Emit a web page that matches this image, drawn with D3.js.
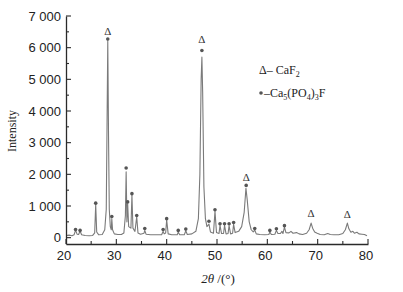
<!DOCTYPE html>
<html><head><meta charset="utf-8">
<script src="https://cdn.jsdelivr.net/npm/d3@7"></script>
<style>
html,body{margin:0;padding:0;background:#fff;}
svg{display:block;font-family:"Liberation Serif","Times New Roman",serif;}
</style></head><body>
<svg id="chart" width="403" height="292"></svg>
<script>
// XRD scan: [2θ (°), intensity]
const pattern = [
 [20.0,70],[20.6,80],[21.2,60],[21.6,90],[21.9,240],[22.2,110],[22.5,100],[22.8,210],[23.1,90],
 [23.8,70],[24.6,60],[25.3,70],[25.7,150],[25.9,1050],[26.1,180],[26.5,90],[27.2,100],[27.7,250],
 [28.0,900],[28.15,3500],[28.3,6200],[28.45,3200],[28.6,900],[28.8,350],[29.0,250],[29.1,600],
 [29.25,250],[29.6,120],[30.3,100],[31.0,100],[31.5,150],[31.8,700],[31.95,2080],[32.1,500],
 [32.25,1080],[32.45,350],[32.9,300],[33.1,1350],[33.3,300],[33.7,200],[34.05,660],[34.3,150],
 [34.8,110],[35.5,140],[35.65,230],[35.9,110],[36.8,90],[38.0,90],[39.0,90],[39.3,200],[39.5,120],
 [39.8,150],[40.0,560],[40.3,120],[41.0,90],[42.1,90],[42.3,170],[42.6,90],[43.5,90],[43.8,220],
 [44.1,100],[45.0,120],[45.8,200],[46.3,600],[46.6,2000],[46.85,5000],[47.0,5700],[47.15,4600],
 [47.4,1600],[47.7,600],[48.0,350],[48.4,430],[48.7,180],[49.3,140],[49.6,830],[49.9,160],
 [50.4,130],[50.6,390],[50.9,130],[51.3,130],[51.5,390],[51.8,120],[52.2,130],[52.4,380],
 [52.7,120],[53.1,140],[53.3,420],[53.6,160],[54.3,200],[54.9,350],[55.4,800],[55.75,1560],
 [56.0,1200],[56.4,500],[56.8,250],[57.2,180],[57.5,240],[57.8,120],[58.5,100],[59.5,90],
 [60.3,100],[60.5,180],[60.8,100],[61.5,110],[61.8,230],[62.1,130],[62.6,130],[62.9,200],
 [63.1,130],[63.4,330],[63.7,160],[64.3,150],[64.7,200],[65.1,140],[65.8,160],[66.3,120],
 [67.0,100],[67.8,140],[68.3,250],[68.7,460],[69.0,300],[69.4,180],[69.9,140],[70.5,100],
 [71.3,90],[72.0,130],[72.5,100],[73.2,90],[74.2,90],[75.0,130],[75.5,250],[75.9,460],
 [76.2,280],[76.6,170],[77.0,200],[77.3,140],[77.8,170],[78.2,120],[78.8,110],[79.3,100],[79.8,60]
];
// Ca5(PO4)3F reflections (marker position)
const apatitePeaks = [
 [21.9,260],[22.8,230],[25.9,1090],[28.3,6270],[29.1,670],[31.95,2200],[32.25,1130],[33.1,1390],
 [34.05,700],[35.65,290],[39.3,260],[40.0,600],[42.3,230],[43.8,270],[47.0,5910],[48.4,520],
 [49.6,880],[50.6,440],[51.5,440],[52.4,440],[53.3,480],[55.8,1650],[57.5,290],[60.5,230],
 [61.8,280],[63.4,380]
];
// CaF2 reflections (marker position)
const fluoritePeaks = [[28.3,6520],[47.0,6280],[55.8,1930],[68.7,780],[75.9,760]];
const xTicks = [20,30,40,50,60,70,80];
const yTicks = [0,1000,2000,3000,4000,5000,6000,7000];
const yTickLabels = ["0","1 000","2 000","3 000","4 000","5 000","6 000","7 000"];

const svg = d3.select("#chart");
const x = d3.scaleLinear().domain([20,80]).range([66,368]);
const y = d3.scaleLinear().domain([-200,7000]).range([244,16]);
const axisColor = "#2a2a2a";

// line
svg.append("path").datum(pattern)
  .attr("fill","none").attr("stroke","#7a7a7a").attr("stroke-width",1.1)
  .attr("stroke-linejoin","round")
  .attr("d", d3.line().x(d=>x(d[0])).y(d=>y(d[1])));

// axes
const gx = svg.append("g").attr("transform","translate(0,244)");
gx.call(d3.axisBottom(x).tickValues(d3.range(20,81,5)).tickSize(0).tickFormat(""));
gx.selectAll(".tick line").remove();
gx.select(".domain").attr("stroke",axisColor).attr("stroke-width",1.3);
gx.selectAll(".mt").data(d3.range(20,81,5)).join("line")
  .attr("x1",d=>x(d)).attr("x2",d=>x(d)).attr("y1",0).attr("y2",d=>d%10===0?-5:-3)
  .attr("stroke",axisColor).attr("stroke-width",1.1);
gx.selectAll(".lab").data(xTicks).join("text")
  .attr("x",d=>x(d)-2).attr("y",16).attr("text-anchor","middle")
  .attr("font-size",13).attr("fill","#222").text(d=>d);

const gy = svg.append("g").attr("transform","translate(66,0)");
gy.call(d3.axisLeft(y).tickValues([]).tickSize(0));
gy.select(".domain").attr("stroke",axisColor).attr("stroke-width",1.3);
gy.selectAll(".mt").data(d3.range(0,7001,500)).join("line")
  .attr("x1",0).attr("x2",d=>d%1000===0?5:3).attr("y1",d=>y(d)).attr("y2",d=>y(d))
  .attr("stroke",axisColor).attr("stroke-width",1.1);
gy.selectAll(".lab").data(yTicks).join("text")
  .attr("x",-5).attr("y",d=>y(d)+4.5).attr("text-anchor","end")
  .attr("font-size",13).attr("fill","#222").text((d,i)=>yTickLabels[i]);

// axis titles
svg.append("text").attr("transform","translate(16,131) rotate(-90)")
  .attr("text-anchor","middle").attr("font-size",12).attr("fill","#222").text("Intensity");
const xt = svg.append("text").attr("x",218).attr("y",283).attr("text-anchor","middle")
  .attr("font-size",13).attr("fill","#222");
xt.append("tspan").attr("font-style","italic").text("2θ");
xt.append("tspan").text(" /(°)");

// markers
svg.selectAll(".ap").data(apatitePeaks).join("circle")
  .attr("cx",d=>x(d[0])).attr("cy",d=>y(d[1])).attr("r",1.8).attr("fill","#555");
svg.selectAll(".fl").data(fluoritePeaks).join("text")
  .attr("x",d=>x(d[0])).attr("y",d=>y(d[1])+4).attr("text-anchor","middle")
  .attr("font-size",11).attr("fill","#333").text("Δ");

// legend
const l1 = svg.append("text").attr("x",259).attr("y",74).attr("font-size",12).attr("fill","#222");
l1.append("tspan").text("Δ– CaF");
l1.append("tspan").attr("font-size",8).attr("dy",3).text("2");
svg.append("circle").attr("cx",261).attr("cy",93).attr("r",1.8).attr("fill","#555");
const l2 = svg.append("text").attr("x",264).attr("y",97).attr("font-size",12).attr("fill","#222");
l2.append("tspan").text("–Ca");
l2.append("tspan").attr("font-size",8).attr("dy",3).text("5");
l2.append("tspan").attr("dy",-3).text("(PO");
l2.append("tspan").attr("font-size",8).attr("dy",3).text("4");
l2.append("tspan").attr("dy",-3).text(")");
l2.append("tspan").attr("font-size",8).attr("dy",3).text("3");
l2.append("tspan").attr("dy",-3).text("F");
</script>
</body></html>
